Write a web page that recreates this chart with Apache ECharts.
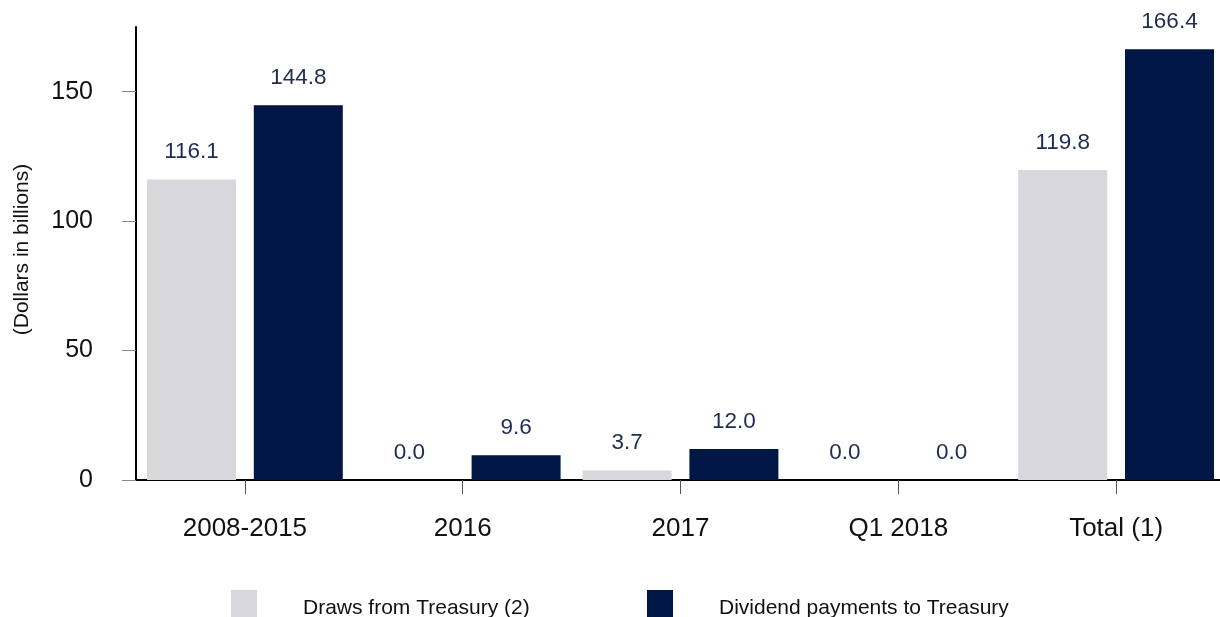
<!DOCTYPE html>
<html>
<head>
<meta charset="utf-8">
<script src="https://cdn.jsdelivr.net/npm/echarts@6/dist/echarts.min.js"></script>
<style>
html,body{margin:0;padding:0;background:#fff;}
#chart{width:1220px;height:617px;}
</style>
</head>
<body>
<div id="chart"></div>
<script>
var categories = ['2008-2015', '2016', '2017', 'Q1 2018', 'Total (1)'];
var draws = [116.1, 0.0, 3.7, 0.0, 119.8];
var dividends = [144.8, 9.6, 12.0, 0.0, 166.4];
var yTicks = [0, 50, 100, 150];
var seriesNames = ['Draws from Treasury (2)', 'Dividend payments to Treasury'];

var FONT = '"Liberation Sans", Arial, sans-serif';
var labelStyle = {
  show: true,
  position: 'top',
  distance: 16,
  fontFamily: FONT,
  fontSize: 22.5,
  color: '#1f2c4f',
  formatter: function (p) { return p.value.toFixed(1); }
};

var chart = echarts.init(document.getElementById('chart'));
chart.setOption({
  animation: false,
  grid: { left: 136, width: 1089, top: 27, bottom: 137, containLabel: false, outerBoundsMode: 'none' },
  legend: [
    {
      data: [seriesNames[0]], left: 231, top: 590, padding: 0, itemWidth: 26, itemHeight: 36,
      icon: 'rect', selectedMode: false,
      textStyle: { fontFamily: FONT, fontSize: 21, color: '#111', padding: [0, 0, 0, 41] }
    },
    {
      data: [seriesNames[1]], left: 647, top: 590, padding: 0, itemWidth: 26, itemHeight: 36,
      icon: 'rect', selectedMode: false,
      textStyle: { fontFamily: FONT, fontSize: 21, color: '#111', padding: [0, 0, 0, 41] }
    }
  ],
  xAxis: {
    type: 'category',
    data: categories,
    axisLine: { lineStyle: { color: '#000', width: 2 } },
    axisTick: { show: true, alignWithLabel: true, length: 14, lineStyle: { color: '#555', width: 1 } },
    axisLabel: { fontFamily: FONT, fontSize: 26, color: '#111', margin: 36 },
    splitLine: { show: false }
  },
  yAxis: {
    type: 'value',
    min: 0,
    max: 175,
    interval: 50,
    name: '(Dollars in billions)',
    nameLocation: 'middle',
    nameGap: 103,
    nameRotate: 90,
    nameTextStyle: { fontFamily: FONT, fontSize: 21, color: '#111', padding: [0, 0, 0, 8] },
    axisLine: { show: true, lineStyle: { color: '#000', width: 2 } },
    axisTick: { show: true, length: 14, customValues: yTicks, lineStyle: { color: '#888', width: 1 } },
    axisLabel: { fontFamily: FONT, fontSize: 25, color: '#111', margin: 43, customValues: yTicks },
    splitLine: { show: false }
  },
  series: [
    {
      name: seriesNames[0], type: 'bar', data: draws, barWidth: 89, barGap: '20%',
      itemStyle: { color: '#d8d7db' }, label: labelStyle
    },
    {
      name: seriesNames[1], type: 'bar', data: dividends, barWidth: 89, barGap: '20%',
      itemStyle: { color: '#001644' }, label: labelStyle
    }
  ]
});
</script>
</body>
</html>
